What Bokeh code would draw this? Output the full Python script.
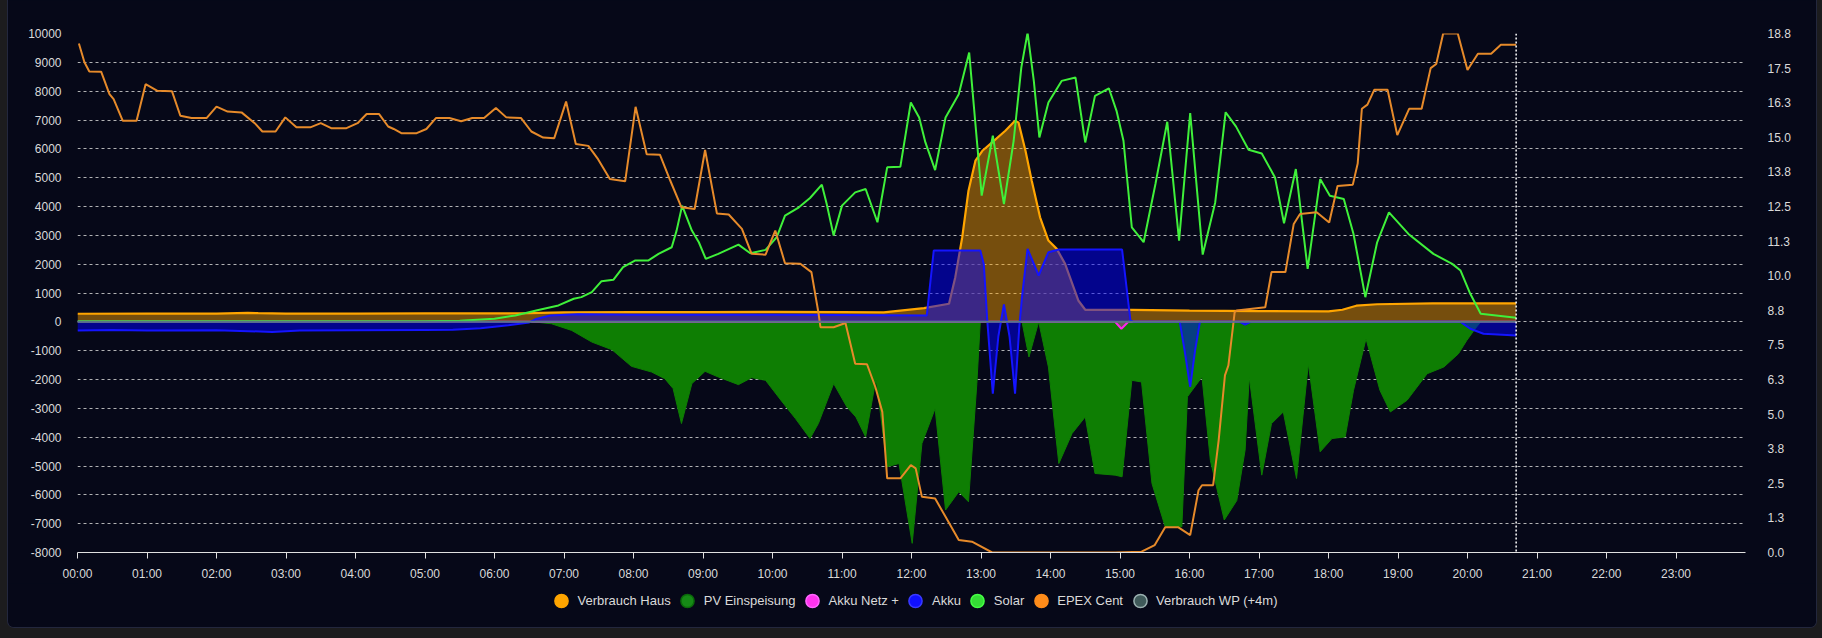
import math
from bokeh.plotting import figure
from bokeh.layouts import column
from bokeh.models import Range1d, LinearAxis, FixedTicker, Span, Legend, LegendItem
from bokeh.embed import file_html
from bokeh.resources import INLINE

# ---------------- data (hours of day, W / cents) ----------------
haus_t = [0, 1, 2, 2.45, 2.6, 3, 4, 5, 6, 6.5, 7, 8, 9, 10, 11, 11.6, 12.18, 12.54, 12.63, 12.73,
          12.82, 12.92, 13.02, 13.16, 13.35, 13.49, 13.54, 13.64, 13.73, 13.85, 13.97, 14.09,
          14.21, 14.40, 14.50, 15.17, 16.0, 17.0, 18.0, 18.2, 18.4, 18.7, 19.5, 20.7]
haus_w = [280, 282, 285, 310, 300, 285, 288, 290, 290, 300, 330, 335, 340, 345, 340, 330, 476, 626,
          1549, 2934, 4549, 5587, 5933, 6222, 6626, 6972, 6914, 5933, 4895, 3626, 2818, 2530,
          2010, 741, 418, 418, 390, 370, 360, 420, 560, 610, 640, 640]

pv_t = [0, 6.55, 6.82, 7.11, 7.40, 7.69, 7.97, 8.26, 8.45, 8.57, 8.69, 8.84, 9.03, 9.22, 9.51,
        9.70, 9.90, 10.14, 10.33, 10.54, 10.66, 10.88, 11.07, 11.20, 11.34, 11.49, 11.65, 11.82,
        12.01, 12.15, 12.34, 12.49, 12.68, 12.82, 12.94, 12.99, 13.59, 13.69, 13.83, 13.97,
        14.12, 14.31, 14.50, 14.64, 14.93, 15.03, 15.17, 15.31, 15.46, 15.65, 15.89, 15.97,
        16.18, 16.30, 16.50, 16.68, 16.80, 16.86, 17.04, 17.18, 17.35, 17.54, 17.71, 17.88,
        18.05, 18.24, 18.36, 18.54, 18.74, 18.89, 19.13, 19.42, 19.66, 19.87, 19.99, 20.11,
        20.19, 20.7]
pv_w = [0, 0, -67, -297, -701, -967, -1543, -1740, -1970, -2316, -3528, -2143, -1717, -1913, -2178,
        -1936, -2028, -2778, -3355, -4047, -3528, -2143, -2951, -3300, -3990, -1971, -5028, -4913,
        -7682, -4220, -3009, -6528, -5894, -6240, -2144, 0, 0, -1220, 0, -1567,
        -4913, -3874, -3297, -5259, -5317, -5374, -2028, -2086, -5605, -7105, -7105, -2600,
        -1913, -4800, -6874, -6200, -4451, -1914, -5317, -3529, -3125, -5433, -1452, -4509,
        -4048, -3990, -2375, -587, -2375, -3125, -2721, -1798, -1567, -1106, -645, -241,
        0, 0]

netz_t = [0, 14.93, 15.02, 15.12, 20.7]
netz_w = [0, 0, -240, 0, 0]

akku_t = [0, 0.5, 1.0, 2.0, 2.8, 3.2, 4.0, 5.0, 5.4, 5.8, 6.2, 6.5, 6.6, 6.8, 7.2, 8, 9, 10, 11,
          12.22, 12.32, 12.99, 13.04, 13.09, 13.17, 13.25, 13.33, 13.41, 13.49, 13.55, 13.59,
          13.67, 13.83, 13.97, 14.12, 15.03, 15.15, 15.2, 15.86, 15.93, 16.01, 16.08, 16.15,
          16.72, 16.8, 16.88, 19.9, 20.04, 20.23, 20.7]
akku_w = [-300, -280, -300, -290, -350, -300, -290, -280, -274, -220, -120, -20, 100, 220, 260,
          250, 250, 250, 240, 222, 2472, 2472, 2010, 49, -2490, -500, 600, -500, -2490, -200, 856,
          2530, 1607, 2414, 2507, 2507, 49, 0, 0, -1000, -2259, -1000, 0,
          0, -100, 0, 0, -240, -414, -471]

solar_t = [0, 5.0, 5.5, 6.0, 6.3, 6.6, 6.92, 7.14, 7.25, 7.40, 7.54, 7.71, 7.85, 8.02, 8.21, 8.36,
           8.55, 8.62, 8.70, 8.84, 8.94, 9.04, 9.22, 9.51, 9.68, 9.90, 10.06, 10.18, 10.38, 10.54,
           10.71, 10.78, 10.88, 11.00, 11.19, 11.34, 11.51, 11.65, 11.84, 11.99, 12.11, 12.20,
           12.34, 12.49, 12.68, 12.83, 12.92, 13.01, 13.17, 13.33, 13.47, 13.58, 13.67, 13.76,
           13.84, 13.97, 14.16, 14.36, 14.50, 14.64, 14.84, 14.95, 15.05, 15.17, 15.34, 15.51,
           15.68, 15.85, 16.01, 16.19, 16.37, 16.52, 16.67, 16.85, 17.04, 17.23, 17.36, 17.53,
           17.70, 17.88, 18.02, 18.22, 18.36, 18.53, 18.70, 18.87, 19.15, 19.51, 19.78, 19.90,
           20.04, 20.19, 20.7]
solar_w = [20, 20, 40, 110, 220, 390, 568, 800, 857, 1030, 1410, 1457, 1895, 2126, 2126, 2356,
           2587, 3164, 4030, 3164, 2760, 2183, 2356, 2679, 2380, 2495, 2933, 3683, 3972, 4295,
           4757, 4087, 2991, 4030, 4491, 4606, 3453, 5357, 5380, 7606, 7087, 6222,
           5264, 7087, 7895, 9337, 6856, 4376, 6453, 4087, 6280, 8818, 10029, 8356,
           6395, 7606, 8356, 8472, 6222, 7837, 8101, 7318, 6280, 3280, 2761, 4780,
           6940, 2818, 7240, 2333, 4140, 7270, 6770, 5970, 5840, 5009, 3417, 5298,
           1836, 4952, 4375, 4259, 3048, 855, 2759, 3798, 3048, 2356, 2010, 1778,
           971, 279, 140]

epex_t = [0.02, 0.10, 0.17, 0.34, 0.46, 0.52, 0.65, 0.85, 0.98, 1.15, 1.36, 1.48, 1.64, 1.86, 2.00,
          2.16, 2.36, 2.55, 2.66, 2.85, 2.99, 3.15, 3.35, 3.50, 3.65, 3.87, 4.03, 4.16, 4.34, 4.47,
          4.55, 4.66, 4.88, 5.02, 5.16, 5.35, 5.52, 5.68, 5.85, 6.02, 6.17, 6.38, 6.53, 6.70, 6.86,
          7.03, 7.17, 7.35, 7.49, 7.66, 7.88, 8.03, 8.19, 8.38, 8.53, 8.69, 8.88, 9.03, 9.20, 9.37,
          9.56, 9.70, 9.90, 10.04, 10.18, 10.40, 10.56, 10.66, 10.69, 10.88, 11.05, 11.19, 11.36,
          11.48, 11.58, 11.65, 11.84, 11.99, 12.06, 12.15, 12.34, 12.49, 12.68, 12.87, 13.16,
          14.93, 15.31, 15.50, 15.65, 15.84, 16.01, 16.13, 16.18, 16.34, 16.42, 16.51, 16.56,
          16.65, 16.68, 17.09, 17.18, 17.38, 17.50, 17.59, 17.83, 18.01, 18.13, 18.35, 18.42,
          18.48, 18.56, 18.66, 18.85, 18.99, 19.16, 19.34, 19.47, 19.55, 19.65, 19.86, 20.00,
          20.15, 20.34, 20.48, 20.70]
epex_ct = [18.39, 17.71, 17.38, 17.37, 16.56, 16.38, 15.60, 15.60, 16.92, 16.68, 16.66, 15.78, 15.70,
           15.70, 16.11, 15.93, 15.90, 15.51, 15.21, 15.21, 15.72, 15.36, 15.36, 15.51, 15.33, 15.33,
           15.51, 15.84, 15.84, 15.39, 15.30, 15.15, 15.15, 15.30, 15.70, 15.70, 15.58, 15.70,
           15.70, 16.06, 15.72, 15.70, 15.21, 14.99, 14.97, 16.29, 14.76, 14.69, 14.21, 13.49,
           13.41, 16.10, 14.39, 14.37, 13.43, 12.47, 12.41, 14.54, 12.25, 12.21, 11.69, 10.79,
           10.76, 11.63, 10.45, 10.43, 10.13, 8.68, 8.14, 8.14, 8.29, 6.82, 6.80, 5.98, 5.08,
           2.68, 2.68, 3.16, 3.04, 2.01, 1.95, 1.29, 0.45, 0.39, 0.0,
           0.0, 0.03, 0.27, 0.91, 0.91, 0.63, 2.25, 2.43, 2.43, 4.06, 6.40, 6.76,
           8.68, 8.74, 8.86, 10.13, 10.13, 11.87, 12.23, 12.29, 11.92, 13.24, 13.29, 14.05,
           16.03, 16.18, 16.72, 16.72, 15.08, 16.03, 16.03, 17.50, 17.65, 18.75, 18.75, 17.43,
           18.02, 18.02, 18.34, 18.34]

wp_t = [0, 20.7]
wp_w = [0, 0]

now_h = 20.70

hour_ticks = list(range(24))
hour_labels = ["%02d:00" % h for h in hour_ticks]
left_ticks = list(range(-8000, 10001, 1000))
left_labels = [str(v) for v in left_ticks]
right_ticks = [0, 1.25, 2.5, 3.75, 5.0, 6.25, 7.5, 8.75, 10.0, 11.25, 12.5, 13.75, 15.0, 16.25, 17.5, 18.75]
right_labels = ["0.0", "1.3", "2.5", "3.8", "5.0", "6.3", "7.5", "8.8", "10.0", "11.3", "12.5",
                "13.8", "15.0", "16.3", "17.5", "18.8"]

legend_names = ["Verbrauch Haus", "PV Einspeisung", "Akku Netz +", "Akku", "Solar", "EPEX Cent",
                "Verbrauch WP (+4m)"]

# ---------------- styles ----------------
BG = "#060818"
TXT = "#dadada"
FONT = "Liberation Sans"
C_HAUS = "#FFA500"
C_PV = "#0e7e03"
C_NETZ = "#FF22EE"
C_AKKU = "#1414ff"
C_SOLAR = "#3ff03a"
C_EPEX = "#e68a2a"
C_WP = "#587585"

p1 = figure(width=1808, height=583, output_backend="svg", toolbar_location=None,
            x_range=Range1d(0, 24), y_range=Range1d(-8000, 10000),
            min_border_left=69, min_border_right=71, min_border_top=33, min_border_bottom=31,
            background_fill_color=BG, border_fill_color=BG, outline_line_color=None)
p1.extra_y_ranges = {"ct": Range1d(0, 18.75)}

# x axis
xa = p1.xaxis[0]
xa.ticker = FixedTicker(ticks=hour_ticks)
xa.major_label_overrides = dict(zip(hour_ticks, hour_labels))
xa.axis_line_color = "#e0e0e0"
xa.major_tick_line_color = "#e0e0e0"
xa.major_tick_out = 6
xa.major_tick_in = 0
xa.minor_tick_line_color = None
xa.major_label_standoff = 8
xa.major_label_text_color = TXT
xa.major_label_text_font = FONT
xa.major_label_text_font_size = "12px"

# left axis
ya = p1.yaxis[0]
ya.ticker = FixedTicker(ticks=left_ticks)
ya.major_label_overrides = dict(zip(left_ticks, left_labels))
ya.axis_line_color = None
ya.major_tick_line_color = None
ya.minor_tick_line_color = None
ya.major_label_standoff = 10
ya.major_label_text_color = TXT
ya.major_label_text_font = FONT
ya.major_label_text_font_size = "12px"

# right axis
ra = LinearAxis(y_range_name="ct", ticker=FixedTicker(ticks=right_ticks),
                major_label_overrides=dict(zip(right_ticks, right_labels)))
ra.axis_line_color = None
ra.major_tick_line_color = None
ra.minor_tick_line_color = None
ra.major_label_standoff = 16
ra.major_label_text_color = TXT
ra.major_label_text_font = FONT
ra.major_label_text_font_size = "12px"
p1.add_layout(ra, "right")

p1.xgrid.visible = False
p1.ygrid.ticker = FixedTicker(ticks=left_ticks)
p1.ygrid.grid_line_color = "#d0d0d0"
p1.ygrid.grid_line_alpha = 0.85
p1.ygrid.grid_line_dash = "3 3"
p1.ygrid.grid_line_width = 1

# series (drawn in dataset order: later on top)
p1.varea(x=haus_t, y1=0, y2=haus_w, fill_color=C_HAUS, fill_alpha=0.45)
p1.line(haus_t, haus_w, line_color=C_HAUS, line_width=2.2)

p1.varea(x=pv_t, y1=0, y2=pv_w, fill_color=C_PV, fill_alpha=1.0)
p1.line(pv_t, pv_w, line_color=C_PV, line_width=1)

p1.varea(x=netz_t, y1=0, y2=netz_w, fill_color=C_NETZ, fill_alpha=0.35)
p1.line(netz_t, netz_w, line_color=C_NETZ, line_width=2)

p1.varea(x=akku_t, y1=0, y2=akku_w, fill_color="#0000ff", fill_alpha=0.5)
p1.line(akku_t, akku_w, line_color=C_AKKU, line_width=2)

p1.line(solar_t, solar_w, line_color=C_SOLAR, line_width=2)

p1.line(epex_t, epex_ct, line_color=C_EPEX, line_width=2, y_range_name="ct")

p1.line(wp_t, wp_w, line_color=C_WP, line_width=2)

p1.add_layout(Span(location=now_h, dimension="height", line_color="#ffffff",
                   line_dash="2 2", line_width=1.5))

# legend strip (separate small figure below the chart)
p2 = figure(width=1808, height=44, output_backend="svg", toolbar_location=None,
            x_range=Range1d(0, 1), y_range=Range1d(0, 1), x_axis_type=None, y_axis_type=None,
            min_border=0, background_fill_color=BG, border_fill_color=BG, outline_line_color=None)
leg_fill = [C_HAUS, "#168a16", "#ff33ee", "#1010ff", "#35dd35", "#ff8c1a", "#3f5a5a"]
leg_line = [C_HAUS, "#0a6a0a", "#ff66ff", "#3a3aff", "#44ff44", "#ff8c1a", "#9ab0b0"]
items = []
for name, fc, lc in zip(legend_names, leg_fill, leg_line):
    r = p2.scatter(x=[math.nan], y=[math.nan], marker="circle", size=13,
                   fill_color=fc, line_color=lc, line_width=1.5)
    items.append(LegendItem(label=name, renderers=[r]))

legend = Legend(items=items, orientation="horizontal", location="top_center",
                glyph_width=33, glyph_height=33, label_standoff=0, spacing=0,
                padding=0, margin=1, border_line_color=None, background_fill_alpha=0,
                label_text_color=TXT, label_text_font=FONT, label_text_font_size="13px")
p2.add_layout(legend, "center")

layout = column(p1, p2, spacing=0, margin=(0, 0, 0, 8),
                styles={"background-color": BG, "border-radius": "0 0 6px 6px",
                        "overflow": "hidden", "box-shadow": "0 0 0 1px #23273d"})

html = file_html(layout, INLINE)
html = html.replace("</head>", "<style>body{background:#1c1c1e;}</style></head>", 1)
open("out.html", "w").write(html)
